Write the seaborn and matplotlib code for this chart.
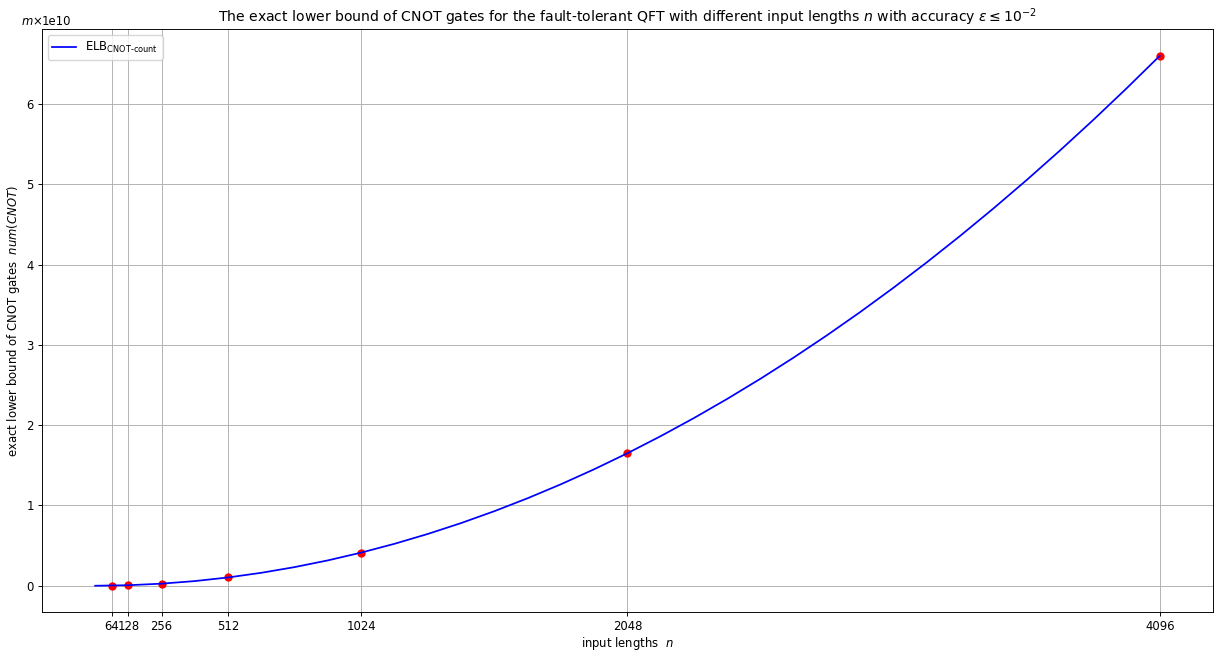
import seaborn as sns
import matplotlib.pyplot as plt
import pandas as pd
import numpy as np

# curve (values in units of 1e10)
curve_n = [1, 128, 256, 384, 512, 640, 768, 896, 1024, 1152, 1280, 1408, 1536, 1664, 1792, 1920, 2048,
           2176, 2304, 2432, 2560, 2688, 2816, 2944, 3072, 3200, 3328, 3456, 3584, 3712, 3840, 3968, 4096]
curve_cnot = [0.0, 0.0064, 0.0258, 0.0580, 0.1031, 0.1611, 0.2320, 0.3158, 0.4125, 0.5221, 0.6446, 0.7799,
              0.9281, 1.0893, 1.2633, 1.4502, 1.6500, 1.8627, 2.0883, 2.3268, 2.5781, 2.8424, 3.1195, 3.4095,
              3.7125, 4.0283, 4.3570, 4.6986, 5.0531, 5.4205, 5.8008, 6.1940, 6.6000]

# marked input lengths
point_n = [64, 128, 256, 512, 1024, 2048, 4096]
point_cnot = [0.0016, 0.0064, 0.0258, 0.1031, 0.4125, 1.6500, 6.6000]

curve_df = pd.DataFrame({"n": curve_n, "cnot": np.array(curve_cnot) * 1e10})
point_df = pd.DataFrame({"n": point_n, "cnot": np.array(point_cnot) * 1e10})

# reference looks like a default figure scaled down by ~0.84
k = 0.84
plt.rcParams.update({
    "font.size": 10 * k,
    "xtick.major.size": 3.5 * k, "ytick.major.size": 3.5 * k,
    "xtick.major.pad": 3.5 * k, "ytick.major.pad": 3.5 * k,
    "xtick.major.width": 0.8 * k, "ytick.major.width": 0.8 * k,
    "axes.linewidth": 0.8 * k, "axes.titlepad": 6.0 * k,
})

fig, ax = plt.subplots(figsize=(12.17, 6.52), dpi=100)
sns.scatterplot(data=point_df, x="n", y="cnot", color="red", s=36, edgecolor="red", linewidth=0, ax=ax, zorder=2)
sns.lineplot(data=curve_df, x="n", y="cnot", color="blue", linewidth=1.5 * k,
             label=r"ELB$_{\text{CNOT-count}}$", ax=ax, zorder=3)

ax.set_xticks(point_n)
ax.grid(True, color="#b0b0b0", linewidth=0.8 * k)
ax.set_axisbelow(True)
ax.set_xlabel(r"input lengths  $n$", labelpad=1.0)
ax.set_ylabel(r"exact lower bound of CNOT gates  $num(CNOT)$", labelpad=3.4)
ax.set_title(r"The exact lower bound of CNOT gates for the fault-tolerant QFT with different input lengths $n$ with accuracy $\varepsilon \leq 10^{-2}$",
             fontsize=12 * k)
ax.text(0, 1.003, r"$m$×", transform=ax.transAxes, ha="right", va="bottom")
ax.legend(loc="upper left")

plt.subplots_adjust(left=0.0345, right=0.9967, top=0.955, bottom=0.061)
plt.savefig("out.png", dpi=100)
plt.close()
